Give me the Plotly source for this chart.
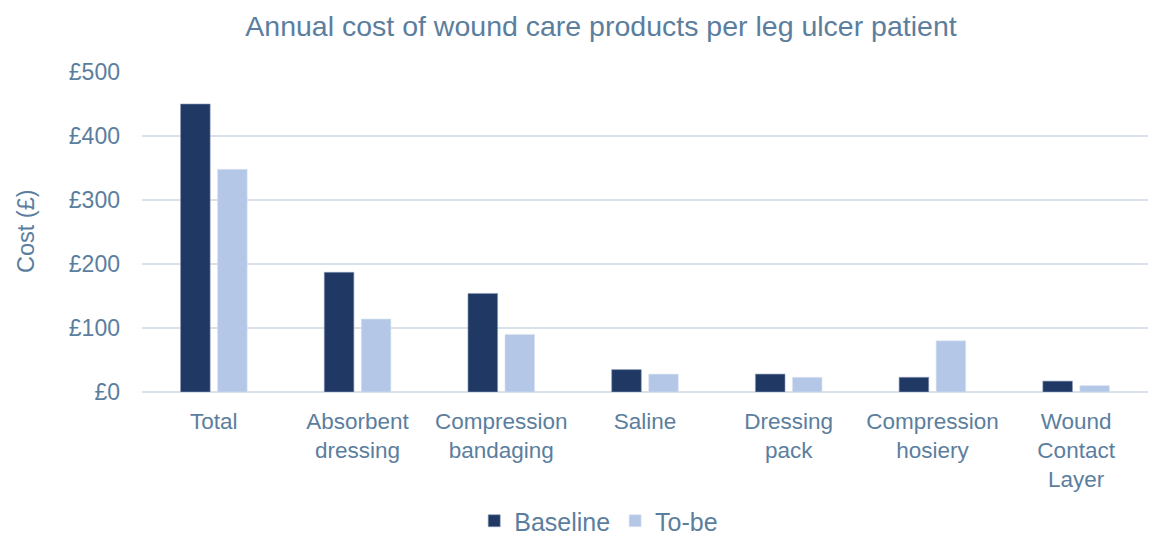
import plotly.graph_objects as go

categories = ["Total", "Absorbent<br>dressing", "Compression<br>bandaging", "Saline",
              "Dressing<br>pack", "Compression<br>hosiery", "Wound<br>Contact<br>Layer"]
baseline = [450, 187, 154, 35, 28, 23, 17]
to_be = [348, 114, 90, 28, 23, 80, 10]
tick_vals = [0, 100, 200, 300, 400, 500]
tick_text = ["£0", "£100", "£200", "£300", "£400", "£500"]

txt = "#5B7E9E"
font = "Liberation Sans, Arial, sans-serif"

# page has an 8px body margin; size the figure to fit inside the window
OFF = 8
W, H = 1160 - OFF, 536 - OFF
L, R, T, B = 142 - OFF, 12, 72 - OFF, 144

fig = go.Figure()
fig.add_bar(x=categories, y=baseline, name="Baseline", marker_color="#203864",
            marker_line=dict(color="#8A9BB8", width=0.6))
fig.add_bar(x=categories, y=to_be, name="To-be", marker_color="#B4C7E7",
            marker_line=dict(color="#DCE5F2", width=0.6))

fig.update_layout(
    width=W, height=H,
    paper_bgcolor="white", plot_bgcolor="white",
    margin=dict(l=L, r=R, t=T, b=B, autoexpand=False),
    barmode="group", bargap=0.485, bargroupgap=0.2,
    title=dict(text="Annual cost of wound care products per leg ulcer patient",
               x=(601 - OFF) / W, xanchor="center", y=1 - (26 - OFF) / H, yanchor="middle",
               font=dict(family=font, size=28.5, color=txt)),
    font=dict(family=font, size=22, color=txt),
    legend=dict(orientation="h", x=(605 - OFF - 74) / W, xanchor="center",
                yref="container", y=1 - (521 - OFF) / H, yanchor="middle",
                font=dict(size=25, color=txt), itemwidth=30,
                tracegroupgap=0),
    showlegend=True,
)
fig.update_yaxes(range=[0, 500], tickvals=tick_vals, ticktext=tick_text,
                 showgrid=True, gridcolor="#D9E1EA", gridwidth=1.5,
                 zeroline=True, zerolinecolor="#D9E1EA", zerolinewidth=1.5,
                 showline=False, ticks="", ticklen=0, automargin=False,
                 ticklabelstandoff=21,
                 tickfont=dict(size=23, color=txt))
fig.update_xaxes(showline=False, ticks="", tickfont=dict(size=22.5, color=txt),
                 tickangle=0, automargin=False, ticklabelstandoff=13)

fig.add_annotation(text="Cost (£)", textangle=-90, xref="paper", yref="paper",
                   x=(26 - 142) / (W - L - R), y=(392 - 231) / 320,
                   xanchor="center", yanchor="middle", showarrow=False,
                   font=dict(family=font, size=23.5, color=txt))

fig.write_html("out.html")
